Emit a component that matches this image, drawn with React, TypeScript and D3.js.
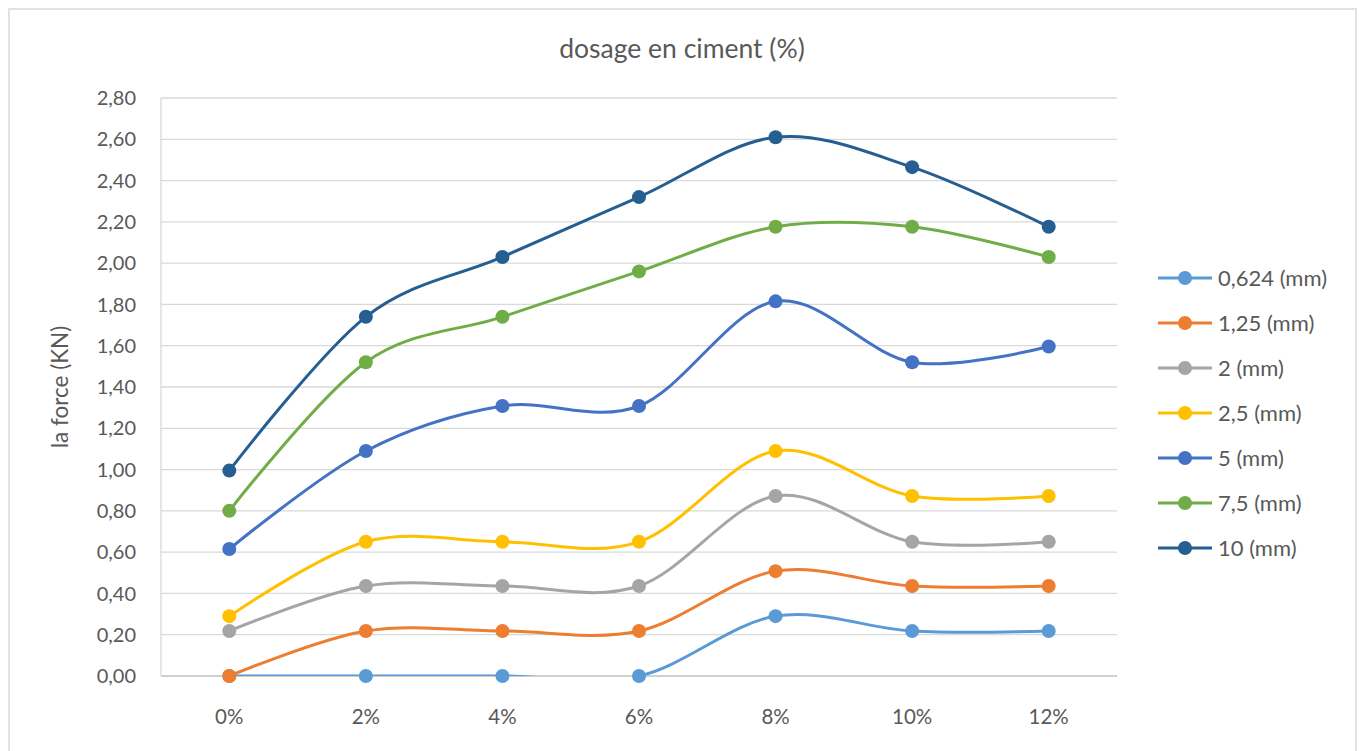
import React from "react";
import * as d3 from "d3";

const categories = ["0%", "2%", "4%", "6%", "8%", "10%", "12%"];
const seriesNames = ["0,624 (mm)", "1,25 (mm)", "2 (mm)", "2,5 (mm)", "5 (mm)", "7,5 (mm)", "10 (mm)"];
const s0624 = [0, 0, 0, 0, 0.29, 0.218, 0.218];
const s125 = [0, 0.218, 0.218, 0.218, 0.508, 0.436, 0.436];
const s2 = [0.218, 0.436, 0.436, 0.436, 0.872, 0.65, 0.65];
const s25 = [0.29, 0.65, 0.65, 0.65, 1.09, 0.872, 0.872];
const s5 = [0.615, 1.09, 1.308, 1.308, 1.815, 1.52, 1.596];
const s75 = [0.8, 1.52, 1.74, 1.96, 2.176, 2.176, 2.03];
const s10 = [0.995, 1.74, 2.03, 2.32, 2.61, 2.465, 2.176];
const seriesValues = [s0624, s125, s2, s25, s5, s75, s10];
const colors = ["#5B9BD5", "#ED7D31", "#A5A5A5", "#FFC000", "#4472C4", "#70AD47", "#255E91"];
const yTicks = [0, 0.2, 0.4, 0.6, 0.8, 1.0, 1.2, 1.4, 1.6, 1.8, 2.0, 2.2, 2.4, 2.6, 2.8];

const FONT = "Lato, 'Open Sans', sans-serif";
const TEXT = "#595959";

export default function App() {
  const left = 161, right = 1117, top = 98, bottom = 676;
  const x = d3.scaleBand<string>().domain(categories).range([left, right]);
  const y = d3.scaleLinear().domain([0, 2.8]).range([bottom, top]);
  const cx = (c: string) => (x(c) as number) + x.bandwidth() / 2;
  const line = d3
    .line<number>()
    .x((_, i) => cx(categories[i]))
    .y((d) => y(d))
    .curve(d3.curveCardinal.tension(0));
  const fmt = (v: number) => v.toFixed(2).replace(".", ",");

  return (
    <svg width={1359} height={751} style={{ position: "absolute", left: 0, top: 0, fontFamily: FONT }}>
      <defs>
        <clipPath id="plot">
          <rect x={left} y={top - 10} width={right - left} height={bottom - top + 10} />
        </clipPath>
      </defs>
      <rect x={0} y={0} width={1359} height={751} fill="#fff" />
      <rect x={9} y={9} width={1347} height={760} fill="none" stroke="#D9D9D9" strokeWidth={1.5} />
      <text x={682} y={48} dy="0.36em" textAnchor="middle" fontSize={26.5} fill={TEXT}>
        dosage en ciment (%)
      </text>
      {yTicks.map((t) => (
        <g key={t}>
          <line x1={left} x2={right} y1={y(t)} y2={y(t)} stroke={t === 0 ? "#BFBFBF" : "#D9D9D9"} strokeWidth={1.3} />
          <text x={136} y={y(t)} dy="0.36em" textAnchor="end" fontSize={20} fill={TEXT}>
            {fmt(t)}
          </text>
        </g>
      ))}
      <line x1={left} x2={left} y1={top} y2={bottom} stroke="#D9D9D9" strokeWidth={1.3} />
      {categories.map((c) => (
        <text key={c} x={cx(c)} y={717} dy="0.36em" textAnchor="middle" fontSize={20.5} fill={TEXT}>
          {c}
        </text>
      ))}
      <text
        transform={`translate(60,${(top + bottom) / 2}) rotate(-90)`}
        textAnchor="middle"
        dy="0.36em"
        fontSize={22.5}
        fill={TEXT}
      >
        la force (KN)
      </text>
      <g clipPath="url(#plot)">
        {seriesValues.map((vals, si) => (
          <path key={si} d={line(vals) || ""} fill="none" stroke={colors[si]} strokeWidth={3} strokeLinecap="round" />
        ))}
      </g>
      {seriesValues.map((vals, si) => (
        <g key={si}>
          {vals.map((v, i) => (
            <circle key={i} cx={cx(categories[i])} cy={y(v)} r={7} fill={colors[si]} />
          ))}
        </g>
      ))}
      {seriesNames.map((n, i) => {
        const ly = 278 + i * 45;
        return (
          <g key={n}>
            <line x1={1158} x2={1212} y1={ly} y2={ly} stroke={colors[i]} strokeWidth={3} />
            <circle cx={1185} cy={ly} r={7} fill={colors[i]} />
            <text x={1218} y={ly} dy="0.36em" fontSize={22} fill={TEXT}>
              {n}
            </text>
          </g>
        );
      })}
    </svg>
  );
}
